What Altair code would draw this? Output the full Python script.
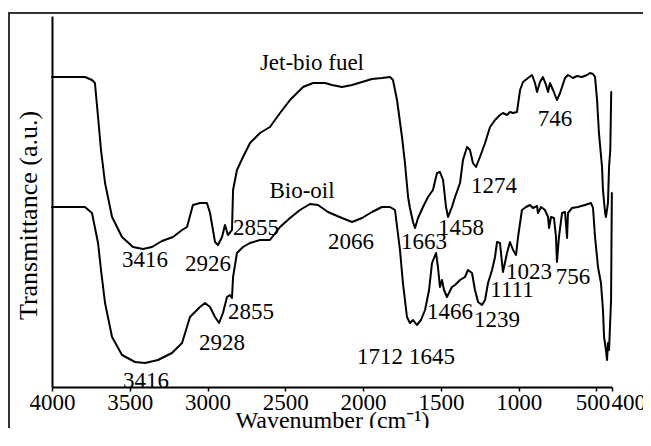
import altair as alt
import pandas as pd

# ---- Jet-bio fuel spectrum (wavenumber cm-1, transmittance a.u.) ----
jet_wn = [4000, 3788, 3743, 3724, 3704, 3685, 3659, 3614, 3550, 3479,
          3415, 3357, 3293, 3222, 3164, 3132, 3094, 3049, 3004, 2984,
          2952, 2933, 2907, 2888, 2869, 2843, 2836, 2811, 2772, 2727,
          2663, 2599, 2534, 2470, 2386, 2322, 2277, 2245, 2200, 2136,
          2071, 2007, 1943, 1879, 1827, 1808, 1782, 1750, 1731, 1711,
          1699, 1679, 1666, 1647, 1615, 1583, 1551, 1525, 1506, 1486,
          1467, 1454, 1429, 1409, 1377, 1358, 1332, 1313, 1294, 1274,
          1249, 1216, 1184, 1152, 1120, 1101, 1075, 1056, 1036, 1011,
          991, 972, 940, 914, 895, 882, 863, 844, 824, 811,
          799, 779, 754, 734, 702, 683, 651, 625, 593, 561,
          541, 522, 509, 496, 484, 464, 458, 445, 439, 426,
          419, 411, 405]
jet_t = [310, 310, 307, 304, 270, 237, 204, 170, 150, 140,
         138, 140, 146, 150, 157, 160, 182, 184, 184, 174,
         145, 142, 150, 162, 152, 157, 197, 217, 230, 244,
         254, 260, 274, 287, 300, 304, 304, 304, 302, 300,
         302, 305, 308, 309, 310, 307, 287, 250, 224, 190,
         179, 165, 159, 169, 180, 190, 197, 214, 215, 207,
         180, 170, 180, 190, 204, 227, 240, 237, 224, 220,
         230, 244, 260, 267, 272, 274, 272, 275, 274, 275,
         297, 305, 309, 312, 304, 295, 305, 310, 302, 295,
         304, 297, 287, 294, 309, 312, 309, 311, 310, 312,
         314, 313, 310, 287, 254, 220, 197, 175, 170, 184,
         220, 237, 295]

# ---- Bio-oil spectrum ----
bio_wn = [4000, 3788, 3743, 3704, 3685, 3659, 3614, 3550, 3466, 3402,
          3319, 3229, 3164, 3113, 3049, 3016, 2984, 2952, 2926, 2901,
          2875, 2856, 2843, 2836, 2811, 2772, 2727, 2663, 2599, 2534,
          2470, 2406, 2341, 2290, 2226, 2136, 2071, 2007, 1943, 1879,
          1827, 1795, 1763, 1744, 1718, 1699, 1679, 1654, 1628, 1602,
          1576, 1557, 1531, 1519, 1506, 1493, 1480, 1461, 1429, 1409,
          1377, 1345, 1326, 1300, 1281, 1261, 1236, 1216, 1197, 1171,
          1152, 1139, 1120, 1107, 1101, 1075, 1056, 1036, 1017, 1004,
          979, 953, 927, 908, 882, 876, 856, 831, 811, 805,
          792, 773, 760, 754, 741, 721, 702, 689, 683, 657,
          619, 574, 535, 522, 509, 490, 471, 458, 451, 439,
          432, 426, 419, 406, 401]
bio_t = [180, 180, 174, 144, 117, 84, 50, 32, 25, 24,
         27, 34, 44, 70, 80, 84, 80, 70, 64, 74,
         90, 92, 89, 110, 134, 140, 144, 147, 147, 160,
         169, 177, 183, 182, 175, 169, 165, 169, 175, 180,
         180, 177, 137, 104, 70, 64, 67, 62, 67, 77,
         97, 124, 134, 120, 100, 107, 97, 90, 100, 102,
         107, 110, 117, 114, 97, 85, 82, 87, 104, 117,
         130, 145, 144, 124, 115, 134, 145, 137, 132, 150,
         177, 180, 182, 179, 181, 174, 180, 177, 170, 159,
         170, 169, 150, 125, 150, 174, 175, 149, 174, 179,
         180, 182, 184, 179, 150, 120, 104, 77, 50, 37,
         27, 44, 37, 87, 194]

# ---- Annotations ----
label_text = ["Jet-bio fuel", "Bio-oil", "3416", "2926", "2855", "2066",
              "1663", "1458", "1274", "746", "3416", "2928", "2855",
              "1712", "1645", "1466", "1239", "1111", "1023", "756"]
label_wn = [2329, 2393, 3402, 2997, 2689, 2078, 1609, 1371, 1159, 766,
            3396, 2907, 2721, 1891, 1557, 1441, 1139, 1043, 934, 651]
label_t = [324, 196, 127, 123, 159, 145, 145, 159, 201, 268,
           6, 44, 75, 30, 30, 75, 67, 97, 115, 110]

tick_values = [4000, 3500, 3000, 2500, 2000, 1500, 1000, 500, 400]

FONT = "Liberation Serif"

spec_df = pd.concat([
    pd.DataFrame({"wn": jet_wn, "t": jet_t, "series": "Jet-bio fuel",
                  "idx": range(len(jet_wn))}),
    pd.DataFrame({"wn": bio_wn, "t": bio_t, "series": "Bio-oil",
                  "idx": range(len(bio_wn))}),
])
lab_df = pd.DataFrame({"wn": label_wn, "t": label_t, "text": label_text})

x_scale = alt.Scale(domain=[400, 4000], reverse=True, nice=False, zero=False)
y_scale = alt.Scale(domain=[0, 371], nice=False, zero=False)

x_axis = alt.Axis(
    values=tick_values, format="d", title="Wavenumber (cm⁻¹)",
    grid=False, domainColor="black", domainWidth=2,
    tickColor="black", tickSize=4, tickWidth=1.5,
    labelFont=FONT, labelFontSize=23, labelColor="black",
    labelBaseline="alphabetic", labelPadding=18,
    labelOverlap=False, labelFlush=False,
    labelAlign={"condition": {"test": "datum.value == 400", "value": "left"},
                "value": "center"},
    labelOffset={"condition": [
        {"test": "datum.value == 400", "value": -1},
        {"test": "datum.value == 500", "value": -4}],
        "value": 0},
    titleFont=FONT, titleFontSize=24, titleFontWeight="normal",
    titleColor="black", titleBaseline="alphabetic", titleY=40,
)
y_axis = alt.Axis(
    title="Transmittance (a.u.)", labels=False, ticks=False, grid=False,
    domainColor="black", domainWidth=2,
    titleFont=FONT, titleFontSize=26, titleFontWeight="normal",
    titleColor="black", titleAngle=-90, titleBaseline="alphabetic",
    titleAlign="center", titleX=-16, titleY=199,
)

lines = alt.Chart(spec_df).mark_line(
    color="black", strokeWidth=2, strokeJoin="round", strokeCap="round"
).encode(
    x=alt.X("wn:Q", scale=x_scale, axis=x_axis),
    y=alt.Y("t:Q", scale=y_scale, axis=y_axis),
    detail="series:N",
    order="idx:Q",
)

texts = alt.Chart(lab_df).mark_text(
    font=FONT, fontSize=23, color="black", align="center", baseline="middle"
).encode(
    x=alt.X("wn:Q", scale=x_scale),
    y=alt.Y("t:Q", scale=y_scale),
    text="text:N",
)

# outer frame of the figure (top and left edges; the rest lies past the page)
frame = alt.Chart(pd.DataFrame({"a": [0]}))
frame_top = frame.mark_rule(color="#333333", strokeWidth=2).encode(
    x=alt.value(-43), x2=alt.value(591), y=alt.value(-3)
)
frame_left = frame.mark_rule(color="#333333", strokeWidth=2).encode(
    x=alt.value(-43), y=alt.value(-4), y2=alt.value(412)
)

chart = alt.layer(lines, texts, frame_top, frame_left).properties(
    width=560, height=371,
    autosize=alt.AutoSizeParams(type="none"),
    padding={"left": 44, "top": 8, "right": 31, "bottom": 41},
).configure_view(stroke=None).configure_text(font=FONT)

chart.save("out.html", embed_options={"renderer": "svg", "actions": False})
